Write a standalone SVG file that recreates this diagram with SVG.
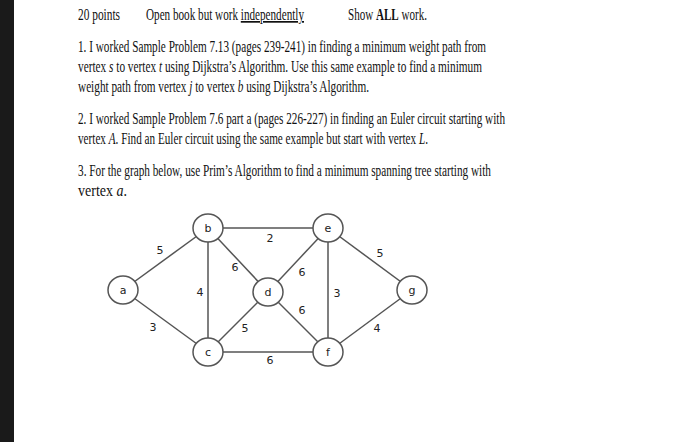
<svg xmlns="http://www.w3.org/2000/svg" width="700" height="442" viewBox="0 0 700 442">
<style>
.t{font-family:"Liberation Serif",serif;font-size:17px;fill:#111}
.n ellipse{fill:#fff;stroke:#555;stroke-width:1.5}
.n text,.w{font-family:"DejaVu Sans",sans-serif;font-size:11px;fill:#222;text-anchor:middle}
.e line{stroke:#555;stroke-width:1.5}
</style>
<rect width="700" height="442" fill="#fff"/>
<rect width="14" height="442" fill="#1a1a1a"/>
<text class="t" x="78" y="20" textLength="42" lengthAdjust="spacingAndGlyphs">20 points</text>
<text class="t" x="146" y="20" textLength="158" lengthAdjust="spacingAndGlyphs">Open book but work <tspan text-decoration="underline">independently</tspan></text>
<text class="t" x="348" y="20" textLength="79" lengthAdjust="spacingAndGlyphs">Show <tspan font-weight="bold">ALL</tspan> work.</text>
<text class="t" x="78" y="52" textLength="408" lengthAdjust="spacingAndGlyphs">1. I worked Sample Problem 7.13 (pages 239-241) in finding a minimum weight path from</text>
<text class="t" x="78" y="72" textLength="404" lengthAdjust="spacingAndGlyphs">vertex <tspan font-style="italic">s</tspan> to vertex <tspan font-style="italic">t</tspan> using Dijkstra’s Algorithm.  Use this same example to find a minimum</text>
<text class="t" x="78" y="92" textLength="291" lengthAdjust="spacingAndGlyphs">weight path from vertex <tspan font-style="italic">j</tspan> to vertex <tspan font-style="italic">b</tspan> using Dijkstra’s Algorithm.</text>
<text class="t" x="78" y="124" textLength="427" lengthAdjust="spacingAndGlyphs">2. I worked Sample Problem 7.6 part a (pages 226-227) in finding an Euler circuit starting with</text>
<text class="t" x="78" y="144" textLength="350" lengthAdjust="spacingAndGlyphs">vertex <tspan font-style="italic">A</tspan>. Find an Euler circuit using the same example but start with vertex <tspan font-style="italic">L</tspan>.</text>
<text class="t" x="78" y="176" textLength="413" lengthAdjust="spacingAndGlyphs">3. For the graph below, use Prim’s Algorithm to find a minimum spanning tree starting with</text>
<text class="t" x="78" y="196" textLength="49" lengthAdjust="spacingAndGlyphs">vertex <tspan font-style="italic">a</tspan>.</text>
<g id="edges" class="e">
<line x1="123" y1="290" x2="208" y2="228"/>
<line x1="123" y1="290" x2="208" y2="352"/>
<line x1="208" y1="228" x2="328" y2="228"/>
<line x1="208" y1="228" x2="208" y2="352"/>
<line x1="208" y1="228" x2="268" y2="292"/>
<line x1="328" y1="228" x2="268" y2="292"/>
<line x1="328" y1="228" x2="328" y2="352"/>
<line x1="328" y1="228" x2="412" y2="290"/>
<line x1="268" y1="292" x2="208" y2="352"/>
<line x1="268" y1="292" x2="328" y2="352"/>
<line x1="208" y1="352" x2="328" y2="352"/>
<line x1="328" y1="352" x2="412" y2="290"/>
</g>
<g id="weights">
<text class="w" x="160" y="254">5</text>
<text class="w" x="270" y="242">2</text>
<text class="w" x="380" y="257">5</text>
<text class="w" x="235" y="271">6</text>
<text class="w" x="302" y="276">6</text>
<text class="w" x="200" y="296">4</text>
<text class="w" x="337" y="297">3</text>
<text class="w" x="302" y="314">6</text>
<text class="w" x="245" y="332">5</text>
<text class="w" x="153" y="331">3</text>
<text class="w" x="377" y="332">4</text>
<text class="w" x="270" y="364">6</text>
</g>
<g id="a" class="n"><ellipse cx="123" cy="290" rx="15" ry="14"/><text x="123" y="294">a</text></g>
<g id="b" class="n"><ellipse cx="208" cy="228" rx="15" ry="14"/><text x="208" y="232">b</text></g>
<g id="e" class="n"><ellipse cx="328" cy="228" rx="15" ry="14"/><text x="328" y="232">e</text></g>
<g id="d" class="n"><ellipse cx="268" cy="292" rx="15" ry="14"/><text x="268" y="296">d</text></g>
<g id="g" class="n"><ellipse cx="412" cy="290" rx="15" ry="14"/><text x="412" y="294">g</text></g>
<g id="c" class="n"><ellipse cx="208" cy="352" rx="15" ry="14"/><text x="208" y="356">c</text></g>
<g id="f" class="n"><ellipse cx="328" cy="352" rx="15" ry="14"/><text x="328" y="356">f</text></g>
</svg>
